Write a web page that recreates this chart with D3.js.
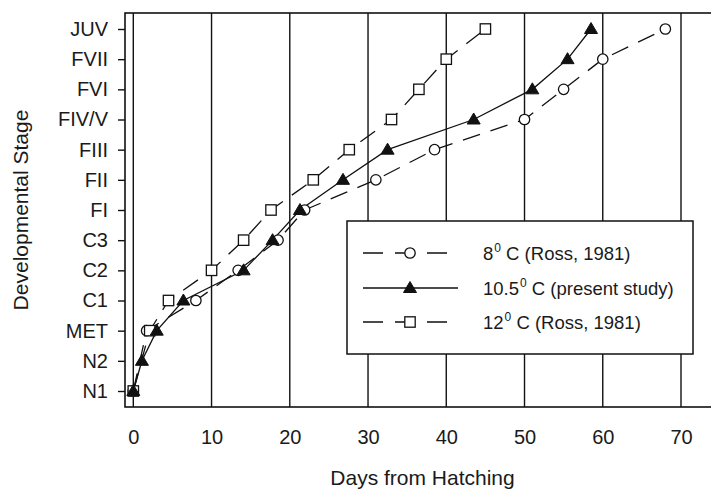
<!DOCTYPE html>
<html>
<head>
<meta charset="utf-8">
<script src="https://cdn.jsdelivr.net/npm/d3@7"></script>
<style>
  html, body { margin: 0; padding: 0; background: #fff; }
  svg { display: block; }
  text { font-family: "Liberation Sans", Arial, sans-serif; fill: #1a1a1a; }
</style>
</head>
<body>
<svg id="chart" width="711" height="491"></svg>
<script>
// ---- data ----
const stages = ["N1","N2","MET","C1","C2","C3","FI","FII","FIII","FIV/V","FVI","FVII","JUV"];
const xTicks = [0,10,20,30,40,50,60,70];

// 8 °C (Ross, 1981) – open circles, dashed
const stages8 = ["N1","MET","C1","C2","C3","FI","FII","FIII","FIV/V","FVI","FVII","JUV"];
const days8   = [0, 1.7, 8.0, 13.4, 18.5, 21.9, 31.0, 38.5, 50.0, 55.0, 60.0, 68.0];

// 10.5 °C (present study) – filled triangles, solid
const stages105 = ["N1","N2","MET","C1","C2","C3","FI","FII","FIII","FIV/V","FVI","FVII","JUV"];
const days105   = [0, 1.1, 3.0, 6.4, 14.1, 17.8, 21.3, 26.8, 32.5, 43.5, 51.0, 55.5, 58.5];

// 12 °C (Ross, 1981) – open squares, dashed
const stages12 = ["N1","MET","C1","C2","C3","FI","FII","FIII","FIV/V","FVI","FVII","JUV"];
const days12   = [0, 2.1, 4.5, 10.0, 14.1, 17.6, 23.0, 27.6, 33.0, 36.5, 40.0, 45.0];

const legendLabels = [
  {pre: "8",    post: " C (Ross, 1981)"},
  {pre: "10.5", post: " C (present study)"},
  {pre: "12",   post: " C (Ross, 1981)"}
];

// ---- layout ----
const svg = d3.select("#chart");
const frame = {left: 125, right: 722, top: 13, bottom: 407};
const x = d3.scaleLinear().domain([0, 70]).range([133.3, 681]);
const y = d3.scalePoint().domain(stages).range([391, 29]);

const series = [
  {name: "8",   st: stages8,   d: days8,   dash: "18,11", marker: "circle"},
  {name: "12",  st: stages12,  d: days12,  dash: "18,11", marker: "square"},
  {name: "10.5",st: stages105, d: days105, dash: null,    marker: "triangle"}
];

// gridlines (vertical)
svg.append("g").selectAll("line").data(xTicks).join("line")
  .attr("x1", d => x(d)).attr("x2", d => x(d))
  .attr("y1", frame.top).attr("y2", frame.bottom)
  .attr("stroke", "#111").attr("stroke-width", 1.4);

// frame
svg.append("rect")
  .attr("x", frame.left).attr("y", frame.top)
  .attr("width", frame.right - frame.left).attr("height", frame.bottom - frame.top)
  .attr("fill", "none").attr("stroke", "#111").attr("stroke-width", 1.6);

// y axis
const yAxis = d3.axisLeft(y).tickSize(7).tickPadding(10);
const gy = svg.append("g").attr("transform", `translate(${frame.left},0)`).call(yAxis);
gy.select(".domain").remove();
gy.selectAll(".tick line").attr("stroke", "#111").attr("stroke-width", 1.4);
gy.selectAll(".tick text").attr("font-size", 20).attr("fill", "#1a1a1a")
  .style("font-family", '"Liberation Sans", Arial, sans-serif');

// x axis labels
const xAxis = d3.axisBottom(x).tickValues(xTicks).tickSize(0).tickPadding(0);
const gx = svg.append("g").attr("transform", `translate(0,${frame.bottom})`).call(xAxis);
gx.select(".domain").remove();
gx.selectAll(".tick text").attr("font-size", 20).attr("fill", "#1a1a1a")
  .attr("dy", null).attr("y", 37)
  .style("font-family", '"Liberation Sans", Arial, sans-serif');

// axis titles
svg.append("text").attr("x", 422.5).attr("y", 485).attr("text-anchor", "middle")
  .attr("font-size", 21).text("Days from Hatching");
svg.append("text").attr("transform", "translate(28,210) rotate(-90)")
  .attr("text-anchor", "middle").attr("font-size", 21).text("Developmental Stage");

// lines
const line = d3.line().x(p => x(p.d)).y(p => y(p.s));
series.forEach(s => {
  const pts = s.d.map((d, i) => ({d, s: s.st[i]}));
  s.pts = pts;
  const path = svg.append("path").datum(pts).attr("d", line)
    .attr("fill", "none").attr("stroke", "#111").attr("stroke-width", 1.3);
  if (s.dash) path.attr("stroke-dasharray", s.dash);
});

// markers
function drawMarker(g, type, cx, cy) {
  if (type === "circle") {
    g.append("circle").attr("cx", cx).attr("cy", cy).attr("r", 5.2)
      .attr("fill", "#fff").attr("stroke", "#111").attr("stroke-width", 1.3);
  } else if (type === "square") {
    g.append("rect").attr("x", cx - 5.2).attr("y", cy - 5.2).attr("width", 10.4).attr("height", 10.4)
      .attr("fill", "#fff").attr("stroke", "#111").attr("stroke-width", 1.3);
  } else {
    g.append("path").attr("d", `M${cx},${cy - 6.5}L${cx + 6.5},${cy + 4.5}L${cx - 6.5},${cy + 4.5}Z`)
      .attr("fill", "#111").attr("stroke", "#111").attr("stroke-width", 1);
  }
}
const gm = svg.append("g");
series.forEach(s => s.pts.forEach(p => drawMarker(gm, s.marker, x(p.d), y(p.s))));

// legend
const lg = svg.append("g");
lg.append("rect").attr("x", 347).attr("y", 221).attr("width", 346).attr("height", 133)
  .attr("fill", "#fff").attr("stroke", "#111").attr("stroke-width", 1.5);
const legendSeries = [series[0], series[2], series[1]];
const rowY = [253, 288, 322];
legendSeries.forEach((s, i) => {
  const ly = rowY[i];
  const l = lg.append("line").attr("x1", 363).attr("x2", 458).attr("y1", ly).attr("y2", ly)
    .attr("stroke", "#111").attr("stroke-width", 1.3);
  if (s.dash) l.attr("stroke-dasharray", "20,12");
  drawMarker(lg, s.marker, 410, ly);
  const t = lg.append("text").attr("x", 483).attr("y", ly + 7).attr("font-size", 18.5);
  t.append("tspan").text(legendLabels[i].pre);
  t.append("tspan").attr("font-size", 12).attr("dy", -8).attr("dx", 1).text("0");
  t.append("tspan").attr("dy", 8).text(legendLabels[i].post);
});
</script>
</body>
</html>
